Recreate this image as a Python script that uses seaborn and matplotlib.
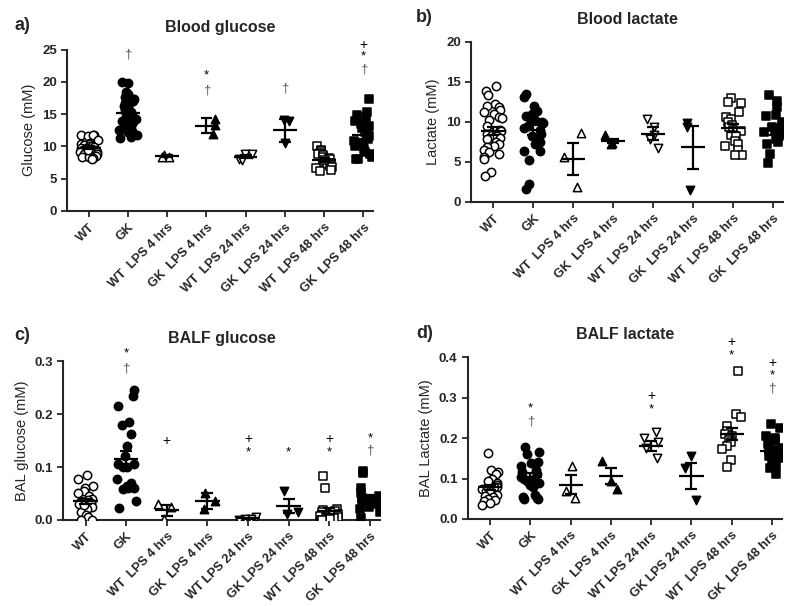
import numpy as np
import pandas as pd
import matplotlib
matplotlib.use("Agg")
import matplotlib.pyplot as plt
import seaborn as sns
import warnings
warnings.filterwarnings("ignore")

sns.set_style("ticks")
plt.rcParams["font.family"] = ["Liberation Sans", "DejaVu Sans"]
np.random.seed(7)

GROUPS = ["WT", "GK", "WT LPS 4", "GK LPS 4", "WT LPS 24", "GK LPS 24", "WT LPS 48", "GK LPS 48"]
MARKERS = ["o", "o", "^", "^", "v", "v", "s", "s"]
FILLED = [False, True, False, True, False, True, False, True]

LABELS_A = ["WT", "GK", "WT  LPS 4 hrs", "GK  LPS 4 hrs", "WT  LPS 24 hrs",
            "GK  LPS 24 hrs", "WT  LPS 48 hrs", "GK  LPS 48 hrs"]
LABELS_D = ["WT", "GK", "WT  LPS 4 hrs", "GK  LPS 4 hrs", "WT LPS 24 hrs",
            "GK LPS 24 hrs", "WT  LPS 48 hrs", "GK  LPS 48 hrs"]

# ===== a) Blood glucose (mM) =====
glu_wt = [11.7, 11.8, 11.6, 11.7, 11.0, 10.6, 10.4, 10.3, 10.2, 10.1, 10.0, 9.9, 9.8, 9.7, 9.6,
          9.5, 9.4, 9.3, 9.2, 9.1, 9.0, 8.9, 8.8, 8.7, 8.5, 8.4, 8.3, 8.2, 8.0, 9.5]
glu_gk = [20.0, 19.8, 18.5, 18.2, 17.6, 17.3, 17.0, 16.8, 16.5, 16.2, 15.9, 15.6, 15.4, 15.2, 15.0,
          14.8, 14.5, 14.2, 14.0, 13.8, 13.5, 13.3, 13.1, 13.0, 12.8, 12.6, 12.5, 12.4, 12.2, 12.0,
          11.8, 11.5, 11.3]
glu_wt4 = [8.7, 8.4, 8.3]
glu_gk4 = [14.3, 13.3, 12.0]
glu_wt24 = [8.9, 8.8, 8.1, 7.9]
glu_gk24 = [14.1, 13.9, 10.6]
glu_wt48 = [10.0, 9.5, 9.3, 9.0, 8.8, 8.6, 8.4, 8.2, 8.0, 7.8, 7.6, 7.5, 7.4, 7.2, 7.0, 6.8, 6.6,
            6.4, 6.2, 7.9]
glu_gk48 = [17.4, 15.4, 14.8, 14.5, 13.9, 13.5, 13.2, 12.8, 12.3, 12.0, 11.6, 11.2, 10.9, 10.6,
            10.3, 10.0, 9.6, 9.2, 8.8, 8.3, 8.1, 8.0]
glu_mean = [9.8, 15.2, 8.5, 13.2, 8.4, 12.5, 7.9, 11.8]
glu_sem = [0.2, 0.45, 0.15, 1.15, 0.2, 1.8, 0.3, 0.6]
glu_marks = [(1, 24.3, "†"), (3, 21.0, "*"), (3, 18.7, "†"), (5, 19.0, "†"),
             (7, 25.8, "+"), (7, 24.0, "*"), (7, 21.9, "†")]

# ===== b) Blood lactate (mM) =====
lac_wt = [14.5, 13.8, 13.4, 12.2, 12.0, 11.8, 11.5, 11.2, 11.0, 10.6, 10.5, 10.2, 9.5, 9.0, 8.8,
          8.5, 8.4, 8.2, 8.0, 7.8, 7.5, 7.2, 7.0, 6.8, 6.5, 6.2, 6.0, 5.6, 5.4, 3.7, 3.2]
lac_gk = [13.5, 13.1, 12.0, 11.3, 11.0, 10.7, 10.5, 10.2, 10.0, 9.8, 9.5, 9.2, 9.0, 8.5, 8.2,
          7.8, 7.5, 7.2, 6.4, 6.3, 5.2, 2.2, 1.6]
lac_wt4 = [8.6, 5.6, 1.8]
lac_gk4 = [8.4, 7.2, 7.3]
lac_wt24 = [10.3, 9.3, 8.3, 7.8, 6.7]
lac_gk24 = [9.8, 9.3, 1.5]
lac_wt48 = [13.0, 12.5, 12.4, 11.2, 10.6, 10.3, 10.0, 9.6, 9.4, 9.0, 8.8, 8.3, 8.2, 7.6, 7.2,
            7.0, 6.5, 5.9, 5.8]
lac_gk48 = [13.3, 12.6, 11.8, 10.8, 10.7, 10.0, 9.5, 9.3, 9.0, 8.7, 8.5, 8.2, 7.8, 7.5, 7.2,
            6.0, 4.9]
lac_mean = [8.8, 9.0, 5.4, 7.6, 8.5, 6.8, 9.2, 9.0]
lac_sem = [0.5, 0.6, 2.0, 0.3, 0.8, 2.7, 0.5, 0.6]
lac_marks = []

# ===== c) BALF glucose (mM) =====
bglu_wt = [0.085, 0.078, 0.065, 0.06, 0.055, 0.05, 0.045, 0.04, 0.038, 0.035, 0.032, 0.03,
           0.025, 0.02, 0.015, 0.01, 0.005, 0.0, 0.0, 0.028]
bglu_gk = [0.245, 0.235, 0.215, 0.185, 0.18, 0.162, 0.14, 0.12, 0.105, 0.105, 0.1, 0.1, 0.077,
           0.07, 0.065, 0.06, 0.06, 0.058, 0.036, 0.022]
bglu_wt4 = [0.03, 0.025, 0.002]
bglu_gk4 = [0.05, 0.035, 0.02]
bglu_wt24 = [0.005, 0.002, 0.001, 0.0]
bglu_gk24 = [0.055, 0.015, 0.012]
bglu_wt48 = [0.083, 0.06, 0.02, 0.018, 0.016, 0.015, 0.012, 0.01, 0.008, 0.006, 0.005, 0.003,
             0.002, 0.0, 0.0]
bglu_gk48 = [0.093, 0.088, 0.06, 0.05, 0.045, 0.042, 0.04, 0.038, 0.035, 0.032, 0.03, 0.025,
             0.02, 0.015, 0.003]
bglu_mean = [0.035, 0.115, 0.018, 0.035, 0.003, 0.026, 0.017, 0.04]
bglu_sem = [0.005, 0.015, 0.01, 0.015, 0.001, 0.013, 0.006, 0.007]
bglu_marks = [(1, 0.314, "*"), (1, 0.287, "†"), (2, 0.15, "+"), (4, 0.153, "+"), (4, 0.128, "*"),
              (5, 0.128, "*"), (6, 0.153, "+"), (6, 0.128, "*"), (7, 0.154, "*"), (7, 0.131, "†")]

# ===== d) BALF lactate (mM) =====
blac_wt = [0.163, 0.12, 0.115, 0.11, 0.1, 0.095, 0.09, 0.085, 0.08, 0.078, 0.075, 0.07, 0.068,
           0.065, 0.06, 0.058, 0.055, 0.05, 0.048, 0.045, 0.04, 0.035]
blac_gk = [0.178, 0.165, 0.16, 0.14, 0.138, 0.13, 0.12, 0.115, 0.11, 0.105, 0.1, 0.1, 0.095,
           0.09, 0.085, 0.08, 0.06, 0.055, 0.052, 0.05, 0.05]
blac_wt4 = [0.13, 0.07, 0.052]
blac_gk4 = [0.143, 0.095, 0.075]
blac_wt24 = [0.215, 0.2, 0.19, 0.175, 0.15]
blac_gk24 = [0.155, 0.125, 0.048]
blac_wt48 = [0.367, 0.26, 0.252, 0.23, 0.218, 0.21, 0.205, 0.2, 0.195, 0.19, 0.18, 0.172,
             0.145, 0.128]
blac_gk48 = [0.235, 0.225, 0.205, 0.2, 0.195, 0.185, 0.18, 0.175, 0.17, 0.165, 0.16, 0.155,
             0.15, 0.145, 0.14, 0.13, 0.125, 0.112]
blac_mean = [0.078, 0.105, 0.085, 0.107, 0.18, 0.107, 0.21, 0.168]
blac_sem = [0.006, 0.008, 0.023, 0.02, 0.013, 0.032, 0.015, 0.009]
blac_marks = [(1, 0.274, "*"), (1, 0.242, "†"), (4, 0.304, "+"), (4, 0.272, "*"),
              (6, 0.437, "+"), (6, 0.405, "*"), (7, 0.385, "+"), (7, 0.355, "*"), (7, 0.323, "†")]


def draw_panel(ax, values, means, sems, marks, ymax, ystep, yfmt, ylabel, title, labels):
    rows = [(g, v) for g, vals in zip(GROUPS, values) for v in vals]
    df = pd.DataFrame(rows, columns=["group", "value"])
    for g, mk, filled in zip(GROUPS, MARKERS, FILLED):
        sns.stripplot(data=df[df["group"] == g], x="group", y="value", order=GROUPS,
                      marker=mk, color="black" if filled else "white", jitter=0.24,
                      edgecolor="black", linewidth=1.1, size=6, ax=ax, zorder=3)
    x = np.arange(len(GROUPS))
    means = np.array(means)
    sems = np.array(sems)
    ax.hlines(means, x - 0.3, x + 0.3, color="black", lw=1.6, zorder=4)
    ax.vlines(x, means - sems, means + sems, color="black", lw=1.6, zorder=4)
    ax.hlines(means + sems, x - 0.15, x + 0.15, color="black", lw=1.6, zorder=4)
    ax.hlines(means - sems, x - 0.15, x + 0.15, color="black", lw=1.6, zorder=4)
    for gi, y, s in marks:
        ax.text(gi, y, s, ha="center", va="center", fontsize=10 if s == "+" else 9.5,
                color="#555555" if s == "†" else "black")

    ticks = np.arange(0, ymax + ystep / 2, ystep)
    ax.set_xlim(-0.55, 7.25)
    ax.set_ylim(0, ymax)
    ax.set_yticks(ticks)
    ax.set_yticklabels([yfmt.format(t) for t in ticks], fontsize=9.5, fontweight="bold")
    ax.set_xticks(x)
    ax.set_xticklabels(labels, rotation=45, ha="right", rotation_mode="anchor",
                       fontsize=9.2, fontweight="bold")
    ax.set_xlabel("")
    ax.set_ylabel(ylabel, fontsize=10.5)
    ax.set_title(title, fontsize=11.5, fontweight="bold", pad=13)
    for sp in ["left", "bottom"]:
        ax.spines[sp].set_linewidth(1.5)
    sns.despine(ax=ax)
    ax.tick_params(width=1.3, length=4)


fig = plt.figure(figsize=(8, 6.06), dpi=100)
ax_a = fig.add_axes([0.084, 0.652, 0.3825, 0.266])
ax_b = fig.add_axes([0.589, 0.667, 0.39, 0.264])
ax_c = fig.add_axes([0.079, 0.142, 0.396, 0.262])
ax_d = fig.add_axes([0.585, 0.1436, 0.3925, 0.267])

draw_panel(ax_a, [glu_wt, glu_gk, glu_wt4, glu_gk4, glu_wt24, glu_gk24, glu_wt48, glu_gk48],
           glu_mean, glu_sem, glu_marks, 25, 5, "{:.0f}", "Glucose (mM)", "Blood glucose", LABELS_A)
draw_panel(ax_b, [lac_wt, lac_gk, lac_wt4, lac_gk4, lac_wt24, lac_gk24, lac_wt48, lac_gk48],
           lac_mean, lac_sem, lac_marks, 20, 5, "{:.0f}", "Lactate (mM)", "Blood lactate", LABELS_A)
draw_panel(ax_c, [bglu_wt, bglu_gk, bglu_wt4, bglu_gk4, bglu_wt24, bglu_gk24, bglu_wt48, bglu_gk48],
           bglu_mean, bglu_sem, bglu_marks, 0.3, 0.1, "{:.1f}", "BAL glucose (mM)", "BALF glucose",
           LABELS_D)
draw_panel(ax_d, [blac_wt, blac_gk, blac_wt4, blac_gk4, blac_wt24, blac_gk24, blac_wt48, blac_gk48],
           blac_mean, blac_sem, blac_marks, 0.4, 0.1, "{:.1f}", "BAL Lactate (mM)", "BALF lactate",
           LABELS_D)

for letter, fx, fy in [("a)", 0.018, 1 - 25 / 606), ("b)", 0.52, 1 - 18 / 606),
                       ("c)", 0.018, 1 - 335 / 606), ("d)", 0.52, 1 - 333 / 606)]:
    fig.text(fx, fy, letter, fontsize=13, fontweight="bold", va="center")

plt.savefig("out.png", dpi=100)
plt.close()
print("Saved: out.png")
